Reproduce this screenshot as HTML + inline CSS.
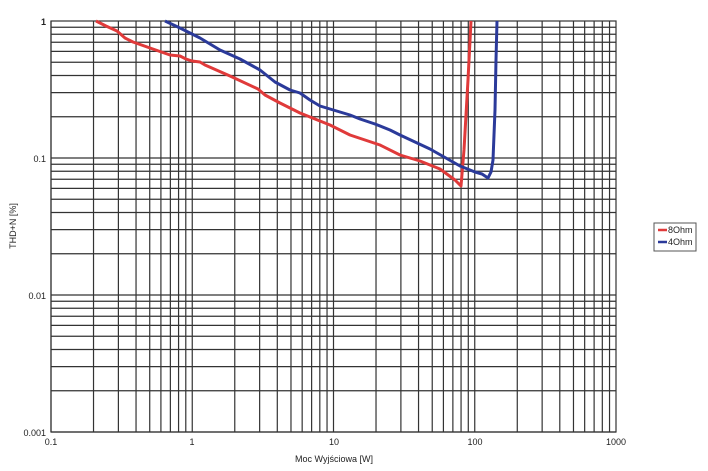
<!DOCTYPE html>
<html><head><meta charset="utf-8"><style>
body{margin:0;background:#fff;}
svg{display:block;font-family:"Liberation Sans",sans-serif;}
</style></head><body>
<svg width="708" height="471" xmlns="http://www.w3.org/2000/svg">
<g id="grid" stroke="#333" stroke-width="1.2" fill="none"></g>
<rect x="51" y="21" width="565" height="411" fill="none" stroke="#333" stroke-width="1.2"/>
<polyline fill="none" stroke="#e03a3a" stroke-width="3" stroke-linejoin="round" points="96,21 106,26 117,31 125,38 133,42 150,48 170,55 180,56 186,59 192,61 200,62 205,65 230,76 258,89 265,95 280,103 300,113 330,125 350,135 380,145 400,155 420,161 440,169 455,180 461,186 464,150 468,80 471,21"/>
<polyline fill="none" stroke="#2b3a9a" stroke-width="3" stroke-linejoin="round" points="165,21 180,28 200,38 220,50 240,59 260,70 275,82 290,90 300,93 310,100 320,106 340,112 350,115 360,119 375,124 390,130 400,135 430,149 460,166 475,172 482,174 488,178 491,172 493,160 495,110 496,60 497,21"/>
<g font-size="9" fill="#222">
<text x="46" y="25" text-anchor="end" font-weight="bold">1</text>
<text x="46" y="162" text-anchor="end">0.1</text>
<text x="46" y="299" text-anchor="end">0.01</text>
<text x="46" y="436" text-anchor="end">0.001</text>
<text x="51" y="445" text-anchor="middle">0.1</text>
<text x="192" y="445" text-anchor="middle">1</text>
<text x="334" y="445" text-anchor="middle">10</text>
<text x="475" y="445" text-anchor="middle">100</text>
<text x="616" y="445" text-anchor="middle">1000</text>
<text x="334" y="462" text-anchor="middle">Moc Wyjściowa [W]</text>
<text transform="translate(16,226) rotate(-90)" text-anchor="middle">THD+N [%]</text>
</g>
<rect x="654" y="223" width="42" height="28" fill="#fff" stroke="#555" stroke-width="1"/>
<line x1="658" y1="230" x2="667" y2="230" stroke="#e03a3a" stroke-width="2.5"/>
<line x1="658" y1="242" x2="667" y2="242" stroke="#2b3a9a" stroke-width="2.5"/>
<text x="668" y="233" font-size="9" fill="#222">8Ohm</text>
<text x="668" y="245" font-size="9" fill="#222">4Ohm</text>
</svg>
<script>
var g=document.getElementById('grid'),s='';
for(var d=0;d<4;d++)for(var k=1;k<10;k++){var x=51+141.25*(d+Math.log10(k));s+='<line x1="'+x+'" y1="21" x2="'+x+'" y2="432"/>';}
for(var d=0;d<3;d++)for(var k=1;k<10;k++){var y=432-137*(d+Math.log10(k));s+='<line x1="51" y1="'+y+'" x2="616" y2="'+y+'"/>';}
g.innerHTML=s;
</script>
</body></html>
